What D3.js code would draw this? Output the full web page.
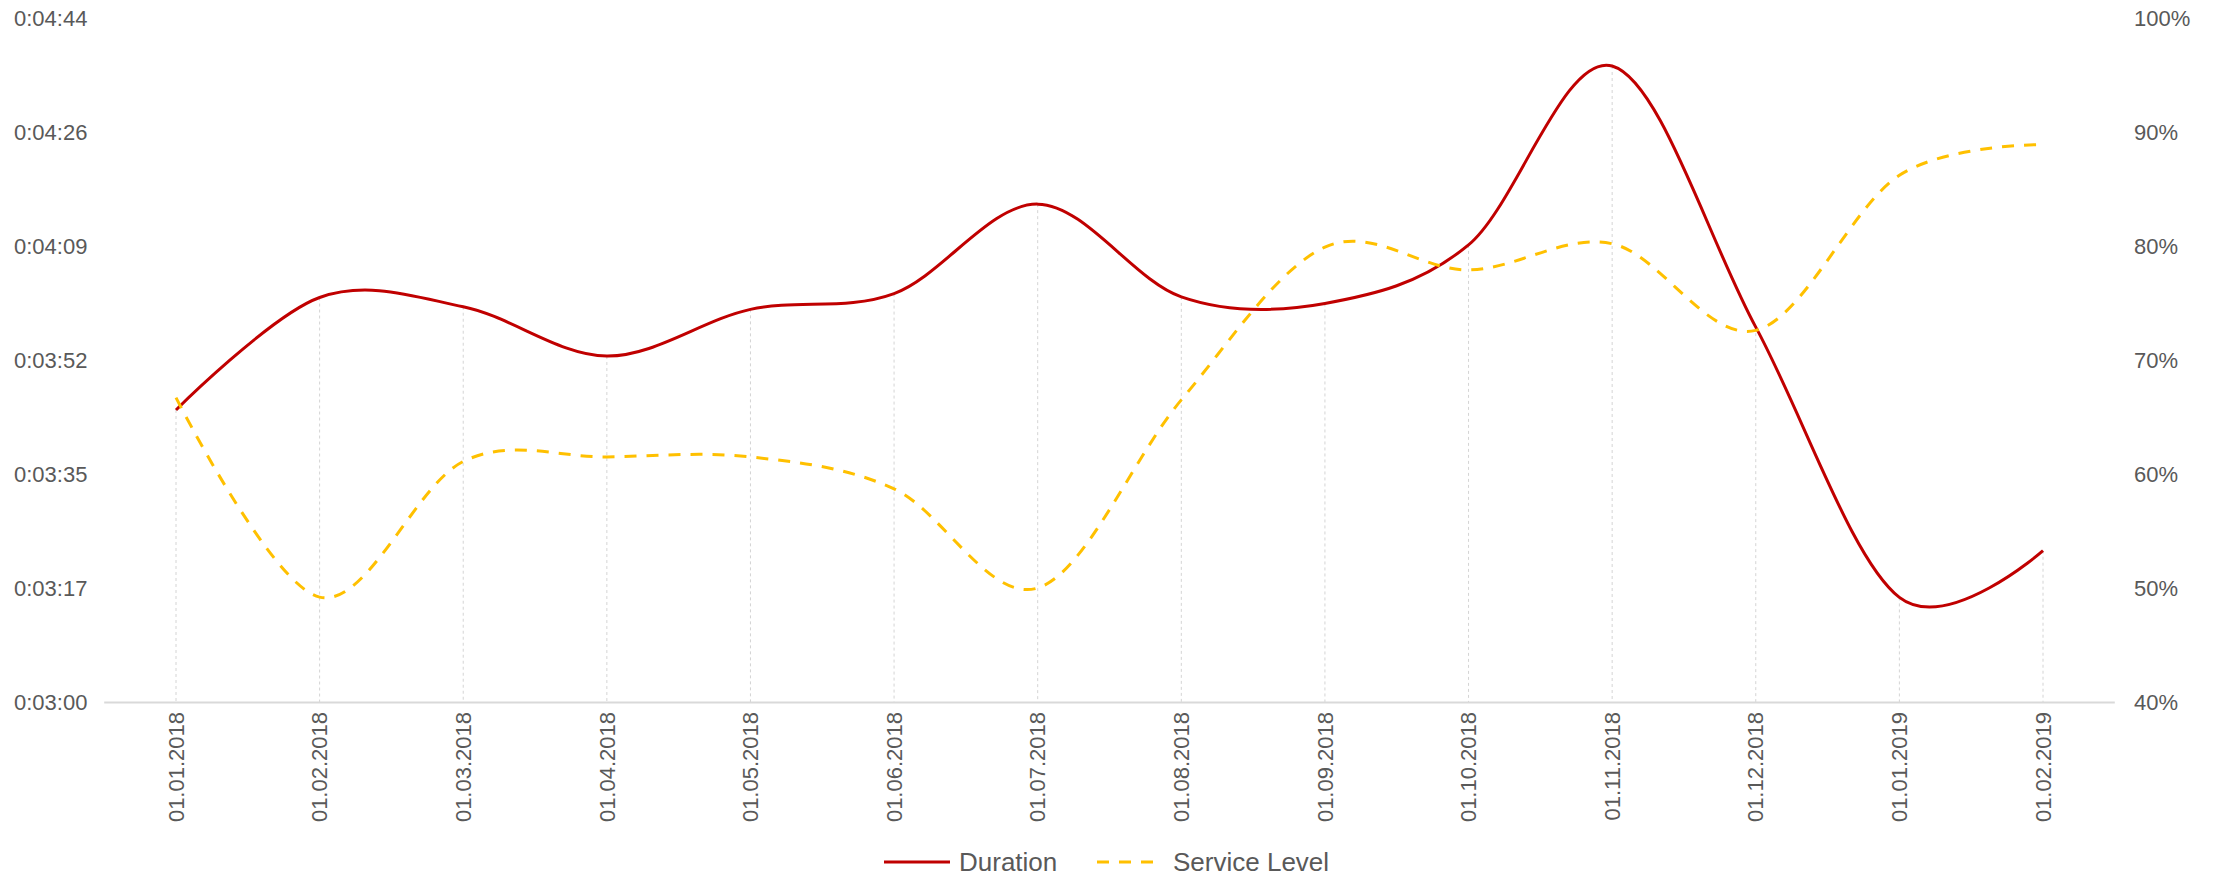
<!DOCTYPE html>
<html>
<head>
<meta charset="utf-8">
<script src="https://cdn.jsdelivr.net/npm/d3@7"></script>
<style>
  html, body { margin: 0; padding: 0; background: #fff; }
  svg { display: block; font-family: "Liberation Sans", Arial, sans-serif; }
</style>
</head>
<body>
<svg id="chart"></svg>
<script>
// categories and series (duration in seconds, service level in %)
const months = ['01.01.2018','01.02.2018','01.03.2018','01.04.2018','01.05.2018','01.06.2018','01.07.2018',
  '01.08.2018','01.09.2018','01.10.2018','01.11.2018','01.12.2018','01.01.2019','01.02.2019'];
const duration = [224.4, 241.5, 240.1, 232.6, 239.7, 242.1, 255.7, 241.6, 240.6, 249.5, 276.7, 237.0, 195.9, 203.0];
const serviceLevel = [66.7, 49.2, 61.1, 61.5, 61.5, 58.7, 50.0, 66.5, 79.9, 77.9, 80.2, 72.6, 86.2, 88.9];

const durationTicks = ['0:03:00','0:03:17','0:03:35','0:03:52','0:04:09','0:04:26','0:04:44'];
const durationRange = [180, 284];
const percentTicks = [40, 50, 60, 70, 80, 90, 100];

const width = 2221, height = 880;
const plotTop = 18, plotBottom = 702;

const svg = d3.select('#chart').attr('width', width).attr('height', height);

const x = d3.scalePoint().domain(months).range([176, 2043]);
const yL = d3.scaleLinear().domain(durationRange).range([plotBottom, plotTop]);
const yR = d3.scaleLinear().domain([40, 100]).range([plotBottom, plotTop]);

const textColor = '#595959';

// left axis labels (evenly spaced over the duration range)
const step = (durationRange[1] - durationRange[0]) / (durationTicks.length - 1);
svg.append('g').selectAll('text').data(durationTicks).enter().append('text')
  .attr('x', 14).attr('y', (d,i)=>yL(durationRange[0] + i*step)).attr('dy', '0.35em')
  .style('font-size', '22px').style('fill', textColor).text(d=>d);

// right axis labels
svg.append('g').selectAll('text').data(percentTicks).enter().append('text')
  .attr('x', 2134).attr('y', d=>yR(d)).attr('dy', '0.35em')
  .style('font-size', '22px').style('fill', textColor).text(d=>d + '%');

// drop lines from each duration point
svg.append('g').selectAll('line').data(duration).enter().append('line')
  .attr('x1', (d,i)=>x(months[i])).attr('x2', (d,i)=>x(months[i]))
  .attr('y1', d=>yL(d)).attr('y2', plotBottom)
  .attr('stroke', '#d4d4d4').attr('stroke-width', 1).attr('stroke-dasharray', '3,3');

// x axis baseline, half a step beyond first and last category
const half = x.step() / 2;
svg.append('line').attr('x1', x(months[0]) - half).attr('x2', x(months[months.length-1]) + half)
  .attr('y1', plotBottom + 0.5).attr('y2', plotBottom + 0.5)
  .attr('stroke', '#d9d9d9').attr('stroke-width', 2);

// x labels, rotated
svg.append('g').selectAll('text').data(months).enter().append('text')
  .attr('transform', d=>`translate(${x(d)},712) rotate(-90)`).attr('dy', '0.35em')
  .attr('text-anchor', 'end').style('font-size', '22px').style('fill', textColor).text(d=>d);

const curve = d3.curveCardinal.tension(0);

const durLine = d3.line().x((d,i)=>x(months[i])).y(d=>yL(d)).curve(curve);
const slLine = d3.line().x((d,i)=>x(months[i])).y(d=>yR(d)).curve(curve);

svg.append('path').datum(duration).attr('d', durLine)
  .attr('fill', 'none').attr('stroke', '#c00000').attr('stroke-width', 3);

svg.append('path').datum(serviceLevel).attr('d', slLine)
  .attr('fill', 'none').attr('stroke', '#ffc000').attr('stroke-width', 3).attr('stroke-dasharray', '12,10');

// legend
const legend = svg.append('g');
legend.append('line').attr('x1', 884).attr('x2', 950).attr('y1', 862).attr('y2', 862)
  .attr('stroke', '#c00000').attr('stroke-width', 3);
legend.append('text').attr('x', 959).attr('y', 862).attr('dy', '0.35em')
  .style('font-size', '26px').style('fill', textColor).text('Duration');
legend.append('line').attr('x1', 1097).attr('x2', 1163).attr('y1', 862).attr('y2', 862)
  .attr('stroke', '#ffc000').attr('stroke-width', 3).attr('stroke-dasharray', '12,10');
legend.append('text').attr('x', 1173).attr('y', 862).attr('dy', '0.35em')
  .style('font-size', '26px').style('fill', textColor).text('Service Level');
</script>
</body>
</html>
